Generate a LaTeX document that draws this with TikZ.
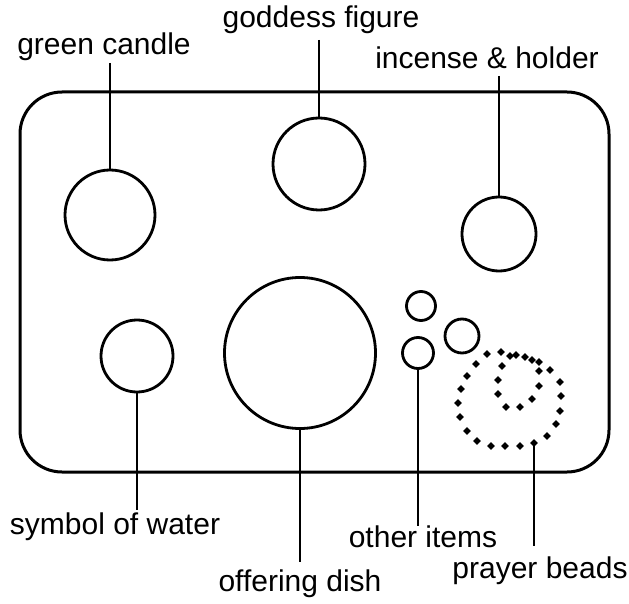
\documentclass[tikz,border=0pt]{standalone}
\usepackage{fontspec}
\setmainfont{Liberation Sans}
\begin{document}
\begin{tikzpicture}[x=1pt,y=-1pt,
  item/.style={circle,draw,line width=2.8pt,inner sep=0pt},
  lbl/.style={font=\fontsize{30}{32}\selectfont,inner sep=0pt},
  lead/.style={line width=2pt},
  bead/.style={fill=black,rotate=45,minimum size=5.5pt,inner sep=0pt}]
\useasboundingbox (0,0) rectangle (629,604);
\draw[line width=3pt,rounded corners=42pt] (20,92) rectangle (609,472);
% items
\node[item,minimum size=90pt] (candle) at (110,215) {};
\node[item,minimum size=92pt] (goddess) at (319,164) {};
\node[item,minimum size=74pt] (incense) at (499,234) {};
\node[item,minimum size=72pt] (water) at (137,356) {};
\node[item,minimum size=151pt] (dish) at (300,353) {};
\node[item,minimum size=29pt] (o1) at (421,306) {};
\node[item,minimum size=34pt] (o2) at (462,336) {};
\node[item,minimum size=31pt] (o3) at (418,353) {};
% prayer beads
\foreach \p [count=\i] in {(534,443),(520,446),(505,446),(491,446),(477,441),(467,431),(460,417),(458,403),(461,389),(467,376),(476,364),(487,354),(501,352),(510,356),(516,355),(525,357),(532,360),(539,362),(550,370),(560,382),(561,396),(560,411),(556,424),(547,436),(539,371),(539,386),(532,399),(520,407),(506,407),(498,394),(498,380),(502,366)}
  \node[bead] (b\i) at \p {};
% labels
\node[lbl] (Lcandle) at (104,47) {green candle};
\node[lbl] (Lgoddess) at (321,20) {goddess figure};
\node[lbl] (Lincense) at (487,58) {incense \& holder};
\node[lbl] (Lwater) at (115,527) {symbol of water};
\node[lbl] (Ldish) at (300,584) {offering dish};
\node[lbl] (Lother) at (423,537) {other items};
\node[lbl] (Lbeads) at (540,571) {prayer beads};
% leader ends
\coordinate (cCandle) at (110,63);
\coordinate (cGoddess) at (319,40);
\coordinate (cIncense) at (499,76);
\coordinate (cWater) at (137,510);
\coordinate (cDish) at (300,562);
\coordinate (cOther) at (418,526);
\coordinate (cBeads) at (534,546);
% leaders
\draw[lead] (cCandle) -- (candle.north);
\draw[lead] (cGoddess) -- (goddess.north);
\draw[lead] (cIncense) -- (incense.north);
\draw[lead] (water.south) -- (cWater);
\draw[lead] (dish.south) -- (cDish);
\draw[lead] (o3.south) -- (cOther);
\draw[lead] (b1.center) -- (cBeads);
\end{tikzpicture}
\end{document}
